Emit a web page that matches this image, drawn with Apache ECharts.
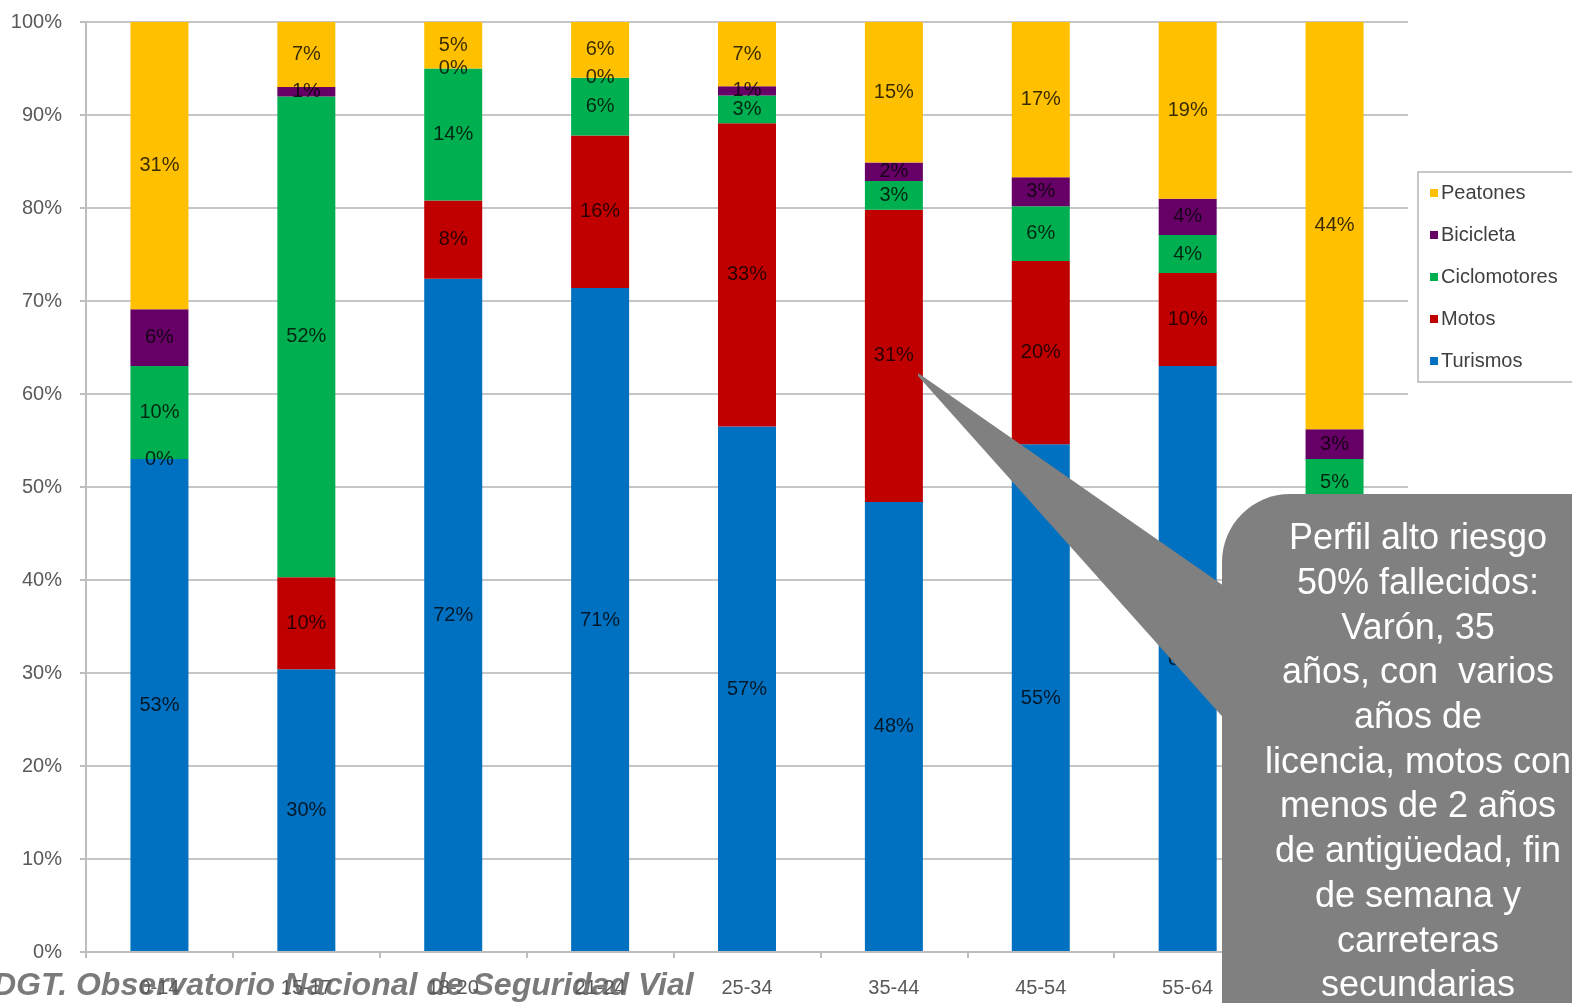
<!DOCTYPE html>
<html>
<head>
<meta charset="utf-8">
<script src="https://cdn.jsdelivr.net/npm/echarts@6/dist/echarts.min.js"></script>
<style>
html,body{margin:0;padding:0;background:#fff;overflow:hidden;}
#chart{width:1572px;height:1003px;}
</style>
</head>
<body>
<div id="chart"></div>
<script>
// Categories (age groups)
const categories = ['0-14', '15-17', '18-20', '21-24', '25-34', '35-44', '45-54', '55-64', '>64'];
// Share of fatalities by mode (%)
const turismos     = [53.0, 30.4, 72.4, 71.4, 56.5, 48.4, 54.6, 63.0, 42.0];
const motos        = [ 0.0,  9.9,  8.4, 16.4, 32.6, 31.4, 19.7, 10.0,  6.0];
const ciclomotores = [10.0, 51.7, 14.2,  6.2,  3.0,  3.1,  5.9,  4.1,  5.0];
const bicicleta    = [ 6.1,  1.0,  0.0,  0.0,  1.0,  2.0,  3.1,  3.9,  3.2];
const peatones     = [30.9,  7.0,  5.0,  6.0,  6.9, 15.1, 16.7, 19.0, 43.8];
const yTicks = [0, 10, 20, 30, 40, 50, 60, 70, 80, 90, 100];

const calloutLines = [
  'Perfil alto riesgo',
  '50% fallecidos:',
  'Varón, 35',
  'años, con  varios',
  'años de',
  'licencia, motos con',
  'menos de 2 años',
  'de antigüedad, fin',
  'de semana y',
  'carreteras',
  'secundarias'
];
const footerText = 'DGT. Observatorio Nacional de Seguridad Vial';

const FONT = '"Liberation Sans", Arial, sans-serif';
const chart = echarts.init(document.getElementById('chart'), null, {renderer: 'canvas'});

function mk(name, data, color) {
  return {
    name: name,
    type: 'bar',
    stack: 'total',
    data: data,
    barWidth: 58,
    itemStyle: {color: color},
    label: {
      show: true,
      position: 'inside',
      fontFamily: FONT,
      fontSize: 20,
      color: 'rgba(0,0,0,0.78)',
      formatter: p => Math.round(p.value) + '%'
    },
    emphasis: {disabled: true}
  };
}

const option = {
  animation: false,
  backgroundColor: '#ffffff',
  grid: {left: 86, right: 164, top: 22, bottom: 51, containLabel: false},
  legend: {
    orient: 'vertical',
    left: 1418,
    top: 172,
    data: ['Peatones', 'Bicicleta', 'Ciclomotores', 'Motos', 'Turismos'],
    icon: 'rect',
    itemWidth: 8,
    itemHeight: 8,
    itemGap: 22,
    padding: [11, 40, 11, 12],
    backgroundColor: '#ffffff',
    borderColor: '#b5b5b5',
    borderWidth: 1.5,
    textStyle: {fontFamily: FONT, fontSize: 20, color: '#404040', lineHeight: 20, padding: [0, 0, 0, -2]}
  },
  xAxis: {
    type: 'category',
    z: 5,
    data: categories,
    axisLine: {lineStyle: {color: '#bdbdbd', width: 2}},
    axisTick: {show: true, length: 6, lineStyle: {color: '#bdbdbd', width: 2}},
    axisLabel: {fontFamily: FONT, fontSize: 20, color: '#595959', margin: 26},
    splitLine: {show: false}
  },
  yAxis: {
    type: 'value',
    min: yTicks[0],
    max: yTicks[yTicks.length - 1],
    interval: yTicks[1] - yTicks[0],
    axisLine: {show: true, lineStyle: {color: '#bdbdbd', width: 2}},
    axisTick: {show: true, length: 6, lineStyle: {color: '#bdbdbd', width: 2}},
    axisLabel: {fontFamily: FONT, fontSize: 20, color: '#595959', margin: 24, formatter: '{value}%'},
    splitLine: {show: true, lineStyle: {color: '#c6c6c6', width: 2}}
  },
  series: [
    mk('Turismos', turismos, '#0070C0'),
    mk('Motos', motos, '#C00000'),
    mk('Ciclomotores', ciclomotores, '#00B050'),
    mk('Bicicleta', bicicleta, '#660066'),
    mk('Peatones', peatones, '#FFC000')
  ],
  graphic: [
    {
      type: 'text',
      z: -10,
      left: -7,
      top: 970,
      style: {
        text: footerText,
        font: 'italic bold 32px ' + FONT,
        fill: '#7a7a7a'
      }
    },
    {
      type: 'polygon',
      z: 100,
      shape: {points: [[918, 373], [918, 376], [1270, 770], [1270, 618]]},
      style: {fill: '#808080'}
    },
    {
      type: 'rect',
      z: 100,
      shape: {x: 1222, y: 494, width: 420, height: 620, r: 68},
      style: {fill: '#808080'}
    },
    {
      type: 'text',
      z: 101,
      x: 1418,
      y: 517,
      style: {
        text: calloutLines.join('\n'),
        font: '36px ' + FONT,
        fill: '#ffffff',
        align: 'center',
        verticalAlign: 'top',
        lineHeight: 44.7
      }
    }
  ]
};
chart.setOption(option);
</script>
</body>
</html>
